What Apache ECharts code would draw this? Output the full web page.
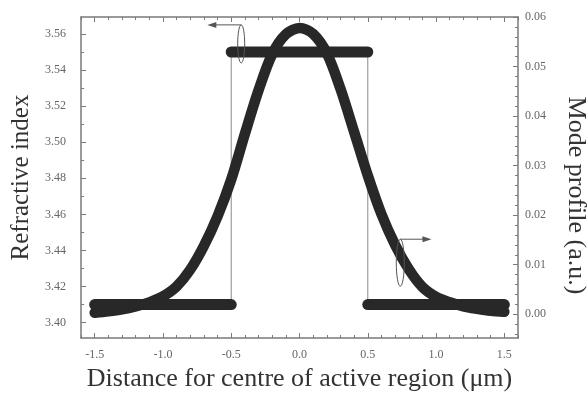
<!DOCTYPE html>
<html>
<head>
<meta charset="utf-8">
<style>
  html, body { margin: 0; padding: 0; background: #fff; }
  #chart { width: 588px; height: 394px; }
</style>
<script src="https://cdn.jsdelivr.net/npm/echarts@6/dist/echarts.min.js"></script>
</head>
<body>
<div id="chart"></div>
<script>
// Step-index profile of the waveguide
const claddingIndex = 3.41;
const coreIndex = 3.55;
const coreBounds = [-0.5, 0.5];
const regionEnds = [-1.5, 1.5];

// Guided mode intensity across the structure (a.u.)
const distance = [-1.5, -1.4, -1.3, -1.2, -1.1, -1.0, -0.9, -0.8, -0.7, -0.6, -0.5, -0.4, -0.3, -0.2, -0.1, 0.0,
                  0.1, 0.2, 0.3, 0.4, 0.5, 0.6, 0.7, 0.8, 0.9, 1.0, 1.1, 1.2, 1.3, 1.4, 1.5];
const modeProfile = [0.0003, 0.0006, 0.0010, 0.0016, 0.0024, 0.0036, 0.0056, 0.0090, 0.0138, 0.0198, 0.0272, 0.0364, 0.0452, 0.0525, 0.0565, 0.0578,
                     0.0566, 0.0527, 0.0455, 0.0368, 0.0280, 0.0202, 0.0140, 0.0091, 0.0055, 0.0035, 0.0024, 0.0016, 0.0011, 0.0007, 0.0005];

// Axis ticks and labels
const xMajor = [-1.5, -1.0, -0.5, 0.0, 0.5, 1.0, 1.5];
const leftMajor = [3.40, 3.42, 3.44, 3.46, 3.48, 3.50, 3.52, 3.54, 3.56];
const rightMajor = [0.00, 0.01, 0.02, 0.03, 0.04, 0.05, 0.06];

const xRange = [-1.6, 1.6];
const leftRange = [3.3915, 3.5694];
const rightRange = [-0.0048, 0.06];

function minorBetween(start, end, step, majors) {
  const out = [];
  const n = Math.round((end - start) / step);
  for (let i = 0; i <= n; i++) {
    const v = +(start + i * step).toFixed(4);
    if (!majors.some(m => Math.abs(m - v) < step / 10)) out.push(v);
  }
  return out;
}
const xMinor = minorBetween(-1.6, 1.6, 0.1, xMajor);
const leftMinor = minorBetween(3.39, 3.57, 0.01, leftMajor).filter(v => v > leftRange[0] && v < leftRange[1]);
const rightMinor = minorBetween(-0.004, 0.06, 0.002, rightMajor);

const serif = '"Liberation Serif", "DejaVu Serif", serif';
const axisGrey = '#7a7a7a';
const labelGrey = '#666';
const ink = '#282828';

function axisBase(extra) {
  return Object.assign({
    type: 'value',
    axisLine: { show: false, onZero: false, lineStyle: { color: axisGrey, width: 1.5 } },
    splitLine: { show: false },
    axisLabel: { show: false },
    axisTick: { show: false }
  }, extra);
}

const chart = echarts.init(document.getElementById('chart'), null, { renderer: 'canvas' });

const option = {
  animation: false,
  backgroundColor: '#fff',
  grid: { left: 81, right: 70, top: 17, bottom: 56, containLabel: false, outerBoundsMode: 'none' },
  xAxis: [
    axisBase({
      position: 'bottom', min: xRange[0], max: xRange[1],
      axisLine: { show: true, onZero: false, lineStyle: { color: axisGrey, width: 1.5 } },
      axisTick: { show: true, inside: true, length: 5, customValues: xMajor, lineStyle: { color: axisGrey } },
      axisLabel: { show: true, customValues: xMajor, margin: 11, color: labelGrey, fontFamily: serif, fontSize: 12,
                   formatter: v => v.toFixed(1) },
      name: 'Distance for centre of active region (\u03bcm)',
      nameLocation: 'middle', nameGap: 27,
      nameTextStyle: { fontFamily: serif, fontSize: 26, color: '#333' }
    }),
    axisBase({
      position: 'bottom', min: xRange[0], max: xRange[1],
      axisTick: { show: true, inside: true, length: 3, customValues: xMinor, lineStyle: { color: axisGrey } }
    }),
    axisBase({
      position: 'top', min: xRange[0], max: xRange[1],
      axisLine: { show: true, onZero: false, lineStyle: { color: axisGrey, width: 1.5 } },
      axisTick: { show: true, inside: true, length: 5, customValues: xMajor, lineStyle: { color: axisGrey } }
    }),
    axisBase({
      position: 'top', min: xRange[0], max: xRange[1],
      axisTick: { show: true, inside: true, length: 3, customValues: xMinor, lineStyle: { color: axisGrey } }
    })
  ],
  yAxis: [
    axisBase({
      position: 'left', min: leftRange[0], max: leftRange[1],
      axisLine: { show: true, onZero: false, lineStyle: { color: axisGrey, width: 1.5 } },
      axisTick: { show: true, inside: true, length: 5, customValues: leftMajor, lineStyle: { color: axisGrey } },
      axisLabel: { show: true, customValues: leftMajor, margin: 15, color: labelGrey, fontFamily: serif, fontSize: 12,
                   formatter: v => v.toFixed(2) },
      name: 'Refractive index',
      nameLocation: 'middle', nameGap: 47, nameRotate: 90,
      nameTextStyle: { fontFamily: serif, fontSize: 25, color: '#333' }
    }),
    axisBase({
      position: 'left', min: leftRange[0], max: leftRange[1],
      axisTick: { show: true, inside: true, length: 3, customValues: leftMinor, lineStyle: { color: axisGrey } }
    }),
    axisBase({
      position: 'right', min: rightRange[0], max: rightRange[1],
      axisLine: { show: true, onZero: false, lineStyle: { color: axisGrey, width: 1.5 } },
      axisTick: { show: true, inside: true, length: 5, customValues: rightMajor, lineStyle: { color: axisGrey } },
      axisLabel: { show: true, customValues: rightMajor, margin: 7, color: labelGrey, fontFamily: serif, fontSize: 12,
                   formatter: v => v.toFixed(2) },
      name: 'Mode profile (a.u.)',
      nameLocation: 'middle', nameGap: 45, nameRotate: -90,
      nameTextStyle: { fontFamily: serif, fontSize: 26, color: '#333', padding: [0, 0, 0, 36] }
    }),
    axisBase({
      position: 'right', min: rightRange[0], max: rightRange[1],
      axisTick: { show: true, inside: true, length: 3, customValues: rightMinor, lineStyle: { color: axisGrey } }
    })
  ],
  series: [
    // thin walls of the core
    {
      type: 'line', xAxisIndex: 0, yAxisIndex: 0, symbol: 'none', z: 1,
      lineStyle: { color: '#8a8a8a', width: 1 },
      data: [[coreBounds[0], claddingIndex], [coreBounds[0], coreIndex]]
    },
    {
      type: 'line', xAxisIndex: 0, yAxisIndex: 0, symbol: 'none', z: 1,
      lineStyle: { color: '#8a8a8a', width: 1 },
      data: [[coreBounds[1], claddingIndex], [coreBounds[1], coreIndex]]
    },
    // cladding and core levels
    {
      type: 'line', xAxisIndex: 0, yAxisIndex: 0, symbol: 'none', z: 3,
      lineStyle: { color: ink, width: 11, cap: 'round' },
      data: [[regionEnds[0], claddingIndex], [coreBounds[0], claddingIndex]]
    },
    {
      type: 'line', xAxisIndex: 0, yAxisIndex: 0, symbol: 'none', z: 3,
      lineStyle: { color: ink, width: 11, cap: 'round' },
      data: [[coreBounds[0], coreIndex], [coreBounds[1], coreIndex]]
    },
    {
      type: 'line', xAxisIndex: 0, yAxisIndex: 0, symbol: 'none', z: 3,
      lineStyle: { color: ink, width: 11, cap: 'round' },
      data: [[coreBounds[1], claddingIndex], [regionEnds[1], claddingIndex]]
    },
    // mode profile
    {
      type: 'line', xAxisIndex: 0, yAxisIndex: 2, symbol: 'none', z: 4, smooth: 0.3,
      lineStyle: { color: ink, width: 10.5, cap: 'round', join: 'round' },
      data: distance.map((d, i) => [d, modeProfile[i]])
    }
  ]
};

chart.setOption(option);

// Ellipse-and-arrow markers pointing each curve to its axis
function px(x, y, yAxisIndex) {
  return chart.convertToPixel({ xAxisIndex: 0, yAxisIndex: yAxisIndex }, [x, y]);
}
function marker(center, rx, ry, tipX, dir) {
  const cx = center[0], cy = center[1];
  const top = cy - ry;
  const stroke = '#555';
  return [
    { type: 'ellipse', shape: { cx: cx, cy: cy, rx: rx, ry: ry }, style: { fill: null, stroke: stroke, lineWidth: 1 }, z: 10 },
    { type: 'line', shape: { x1: cx, y1: top, x2: tipX - dir * 6, y2: top }, style: { stroke: stroke, lineWidth: 1 }, z: 10 },
    { type: 'polygon', shape: { points: [[tipX, top], [tipX - dir * 9, top - 3], [tipX - dir * 9, top + 3]] },
      style: { fill: stroke }, z: 10 }
  ];
}
const leftMark = px(-0.427, 3.5545, 0);
const leftTip = px(-0.675, 3.5545, 0)[0];
const rightMark = px(0.738, 0.0104, 2);
const rightTip = px(0.966, 0.0104, 2)[0];

chart.setOption({
  graphic: [].concat(
    marker(leftMark, 3.5, 19, leftTip, -1),
    marker(rightMark, 4, 23.5, rightTip, 1)
  )
});
</script>
</body>
</html>
